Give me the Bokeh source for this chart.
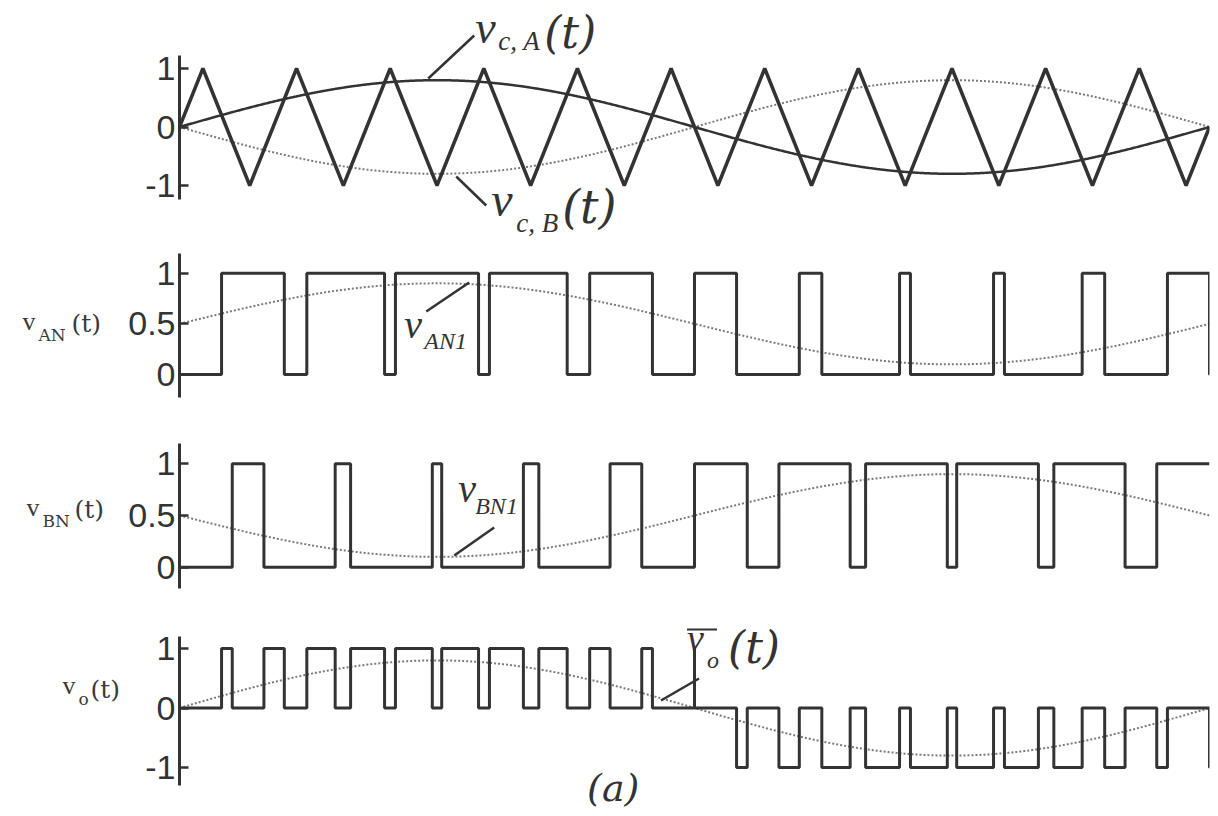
import numpy as np
from bokeh.plotting import figure
from bokeh.layouts import column, row
from bokeh.models import Range1d, Label, FixedTicker
from bokeh.embed import file_html
from bokeh.resources import INLINE

# ---------------- data ----------------
carrier_cycles = 11          # triangle carrier periods over one fundamental period
mod_amplitude = 0.8          # amplitude of the control signals v_c,A and v_c,B
dc_level = 0.5               # average level of v_AN1 / v_BN1
ticks_1 = [-1, 0, 1]
ticks_2 = [0, 0.5, 1]
ticks_3 = [0, 0.5, 1]
ticks_4 = [-1, 0, 1]
tick_text = {-1: "-1", 0: "0", 0.5: "0.5", 1: "1"}

# carrier vertices (0, +1, 0, -1, 0 ... per cycle)
car_x = np.arange(4 * carrier_cycles + 1) / (4.0 * carrier_cycles)
car_y = np.tile([0.0, 1.0, 0.0, -1.0], carrier_cycles + 1)[: len(car_x)]

t = np.linspace(0.0, 1.0, 40001)
carrier = np.interp(t, car_x, car_y)
vcA = mod_amplitude * np.sin(2 * np.pi * t)
vcB = -vcA
vAN = (vcA > carrier).astype(float)
vBN = (vcB > carrier).astype(float)
vo = vAN - vBN

ts = np.linspace(0.0, 1.0, 1201)
vcA_s = mod_amplitude * np.sin(2 * np.pi * ts)
vcB_s = -vcA_s
vAN1 = dc_level + vcA_s / 2
vBN1 = dc_level + vcB_s / 2
vo_avg = vcA_s


def steps(sig):
    idx = np.nonzero(np.diff(sig))[0]
    edges = (t[idx] + t[idx + 1]) / 2
    xs = np.concatenate([[0.0], edges, [1.0]])
    ys = np.concatenate([[sig[0]], sig[idx + 1], [sig[-1]]])
    return xs, ys


# ---------------- layout helpers ----------------
INK = "#333333"
DOT = "#7a7a7a"
LW = 125                      # width of the left label strip
X0, XW = 178.0, 1031.0        # page x of t=0 and width of t in [0, 1]
FW = 1089                     # main figure width
TOTAL_H = 814
BASE_FIX = 0.44               # observed baseline offset of Label text (in em)


def X(px):
    return (px - X0) / XW


def make_fig(top, bottom, p0, s, axis_top, axis_bot, ticks):
    h = int(bottom - top)
    p = figure(width=FW, height=h, x_range=Range1d(0, 1),
               y_range=Range1d((p0 - bottom) / s, (p0 - top) / s),
               output_backend="svg", toolbar_location=None,
               min_border_left=int(X0 - LW), min_border_right=FW - int(X0 - LW) - int(XW),
               min_border_top=0, min_border_bottom=0,
               x_axis_location=None)
    p.grid.visible = False
    p.outline_line_color = None
    ax = p.yaxis[0]
    ax.ticker = FixedTicker(ticks=ticks)
    ax.bounds = ((p0 - axis_bot) / s, (p0 - axis_top) / s)
    ax.major_label_overrides = {k: tick_text[k] for k in ticks}
    ax.axis_line_width = 3
    ax.axis_line_color = INK
    ax.major_tick_in = 9
    ax.major_tick_out = 0
    ax.major_tick_line_width = 2.5
    ax.major_tick_line_color = INK
    ax.minor_tick_line_color = None
    ax.major_label_text_font = "Liberation Sans"
    ax.major_label_text_font_size = "34px"
    ax.major_label_text_color = INK
    ax.major_label_standoff = 4
    p._map = (p0, s)
    return p


def lab(p, px, py, text, size, font="Liberation Serif", style="italic"):
    p0, s = p._map
    py = py - BASE_FIX * size
    p.add_layout(Label(x=X(px), y=(p0 - py) / s, text=text,
                       text_font=font, text_font_style=style,
                       text_font_size=f"{size}px", text_color=INK,
                       text_baseline="alphabetic", text_align="left"))


def leader(p, pxa, pya, pxb, pyb, w=2.5):
    p0, s = p._map
    p.segment(x0=[X(pxa)], y0=[(p0 - pya) / s], x1=[X(pxb)], y1=[(p0 - pyb) / s],
              line_color=INK, line_width=w)


# ---------------- left label strip ----------------
pl = figure(width=LW, height=TOTAL_H, x_range=Range1d(0, LW), y_range=Range1d(TOTAL_H, 0),
            output_backend="svg", toolbar_location=None,
            min_border_left=0, min_border_right=0, min_border_top=0, min_border_bottom=0,
            x_axis_location=None, y_axis_location=None)
pl.grid.visible = False
pl.outline_line_color = None


def llab(px, py, text, size, font="Liberation Serif"):
    pl.add_layout(Label(x=px, y=py - BASE_FIX * size, text=text, text_font=font,
                        text_font_style="normal",
                        text_font_size=f"{size}px", text_color="#3a3a3a",
                        text_baseline="alphabetic", text_align="left"))


llab(22, 332, "v", 26)
llab(38, 342, "AN", 17, font="DejaVu Serif")
llab(71, 334, "(t)", 25, font="DejaVu Serif")
llab(26, 518, "v", 26)
llab(42, 528, "BN", 17, font="DejaVu Serif")
llab(74, 520, "(t)", 25, font="DejaVu Serif")
llab(62, 696, "v", 26)
llab(78, 706, "o", 17, font="DejaVu Serif")
llab(90, 700, "(t)", 25, font="DejaVu Serif")

# ---------------- panel 1 ----------------
p1 = make_fig(0, 252, 126.5, 58.5, 55, 199, ticks_1)
p1.line(ts, vcB_s, line_color=DOT, line_width=2, line_dash="2 2")
p1.line(ts, vcA_s, line_color=INK, line_width=2.5)
p1.line(car_x, car_y, line_color=INK, line_width=3.5)
leader(p1, 427, 78, 473, 35)
leader(p1, 455, 176, 485, 205)
lab(p1, 474, 47, "v", 46)
lab(p1, 497, 52, "c, A", 27)
lab(p1, 543, 51, "(t)", 44, font="DejaVu Serif")
lab(p1, 490, 220, "v", 48)
lab(p1, 515, 234, "c, B", 27)
lab(p1, 561, 227, "(t)", 46, font="DejaVu Serif")

# ---------------- panel 2 ----------------
p2 = make_fig(252, 432, 374.0, 101.3, 253, 397, ticks_2)
p2.line(ts, vAN1, line_color=DOT, line_width=2, line_dash="2 2")
sx, sy = steps(vAN)
p2.step(sx, sy, mode="after", line_color=INK, line_width=3)
leader(p2, 425, 311, 468, 282)
lab(p2, 403, 342, "v", 40)
lab(p2, 423, 351, "AN1", 24)

# ---------------- panel 3 ----------------
p3 = make_fig(432, 610, 566.7, 103.4, 443, 588, ticks_3)
p3.line(ts, vBN1, line_color=DOT, line_width=2, line_dash="2 2")
sx, sy = steps(vBN)
p3.step(sx, sy, mode="after", line_color=INK, line_width=3)
leader(p3, 453, 555, 493, 527)
lab(p3, 457, 506, "v", 40)
lab(p3, 474, 516, "BN1", 24)

# ---------------- panel 4 ----------------
p4 = make_fig(610, TOTAL_H, 707.5, 59.5, 636, 785, ticks_4)
p4.line(ts, vo_avg, line_color=DOT, line_width=2, line_dash="2 2")
sx, sy = steps(vo)
p4.step(sx, sy, mode="after", line_color=INK, line_width=3)
leader(p4, 660, 700, 698, 678)
leader(p4, 686, 629, 716, 629, w=2)
lab(p4, 686, 654, "v", 38)
lab(p4, 706, 670, "o", 24)
lab(p4, 727, 666, "(t)", 44, font="DejaVu Serif")
lab(p4, 586, 804, "(a)", 38, font="DejaVu Serif")

layout = row(pl, column(p1, p2, p3, p4, spacing=0), spacing=0)
open("out.html", "w").write(file_html(layout, INLINE, "PWM"))
